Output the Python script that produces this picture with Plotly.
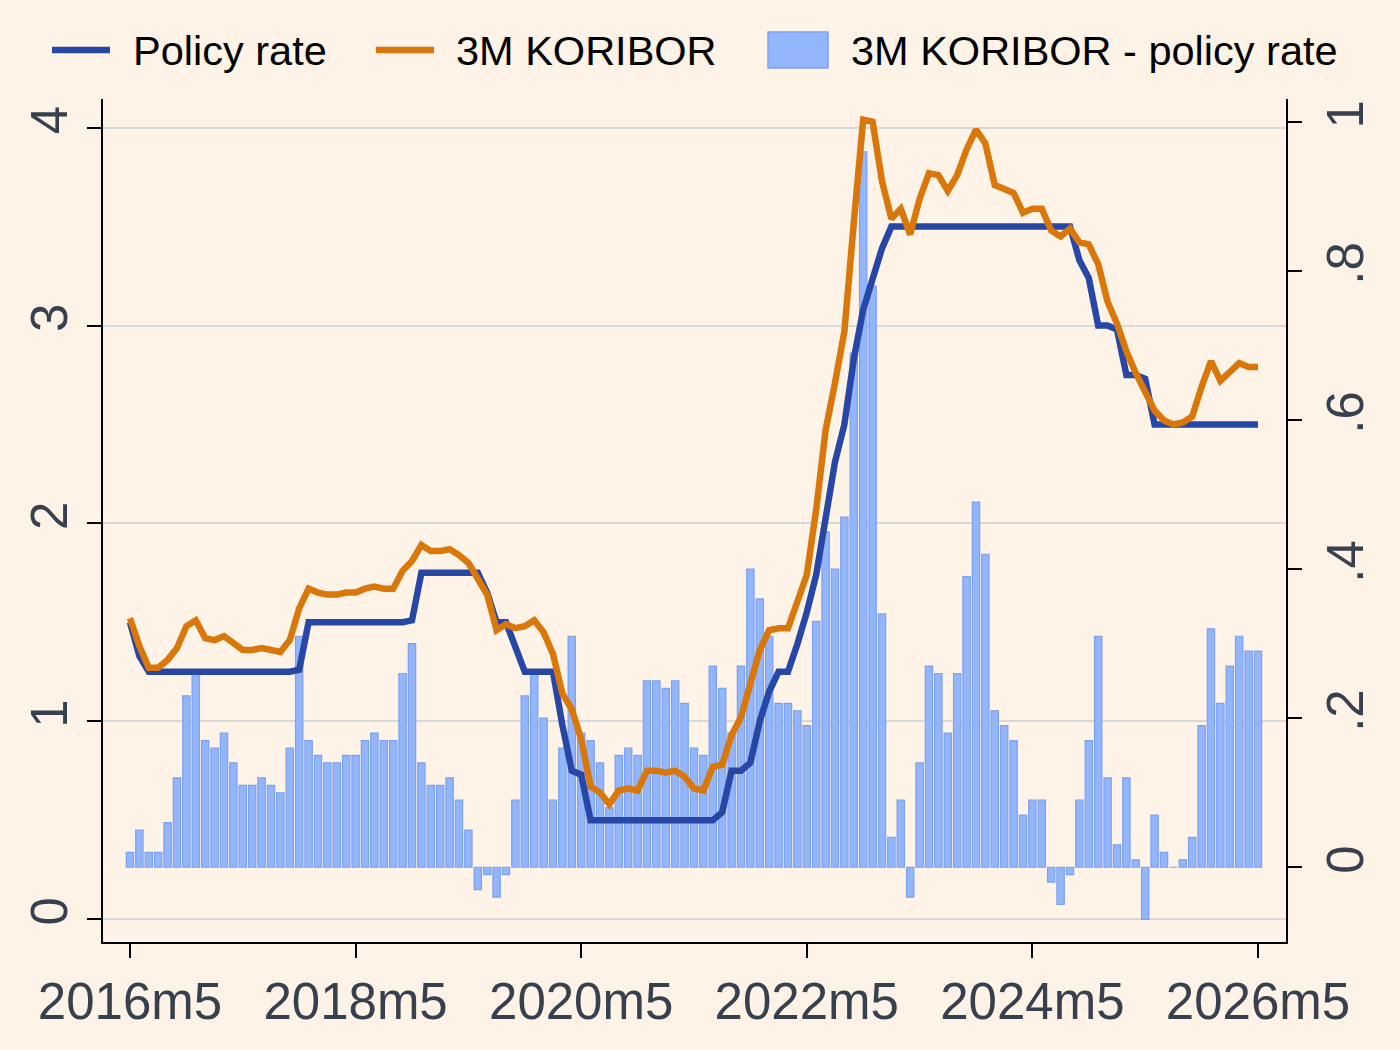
import plotly.graph_objects as go

# ---------------- data (monthly, 2016m5 .. 2026m5) ----------------
start_year, start_month = 2016, 5
n_months = 121
month_labels = [f"{start_year + (start_month - 1 + i) // 12}m{(start_month - 1 + i) % 12 + 1}"
                for i in range(n_months)]
month_index = list(range(n_months))

policy_rate = [
    1.50, 1.33, 1.25, 1.25, 1.25, 1.25, 1.25, 1.25, 1.25, 1.25,
    1.25, 1.25, 1.25, 1.25, 1.25, 1.25, 1.25, 1.25, 1.26, 1.50,
    1.50, 1.50, 1.50, 1.50, 1.50, 1.50, 1.50, 1.50, 1.50, 1.50,
    1.51, 1.75, 1.75, 1.75, 1.75, 1.75, 1.75, 1.75, 1.65, 1.50,
    1.50, 1.38, 1.25, 1.25, 1.25, 1.25, 0.98, 0.75, 0.73, 0.50,
    0.50, 0.50, 0.50, 0.50, 0.50, 0.50, 0.50, 0.50, 0.50, 0.50,
    0.50, 0.50, 0.50, 0.54, 0.75, 0.75, 0.79, 1.00, 1.15, 1.25,
    1.25, 1.39, 1.55, 1.74, 2.02, 2.31, 2.50, 2.83, 3.08, 3.25,
    3.39, 3.50, 3.50, 3.50, 3.50, 3.50, 3.50, 3.50, 3.50, 3.50,
    3.50, 3.50, 3.50, 3.50, 3.50, 3.50, 3.50, 3.50, 3.50, 3.50,
    3.50, 3.33, 3.24, 3.00, 3.00, 2.98, 2.75, 2.75, 2.73, 2.50,
    2.50, 2.50, 2.50, 2.50, 2.50, 2.50, 2.50, 2.50, 2.50, 2.50,
    2.50,
]

koribor_3m = [
    1.52, 1.38, 1.27, 1.27, 1.31, 1.37, 1.48, 1.51, 1.42, 1.41,
    1.43, 1.39, 1.36, 1.36, 1.37, 1.36, 1.35, 1.41, 1.57, 1.67,
    1.65, 1.64, 1.64, 1.65, 1.65, 1.67, 1.68, 1.67, 1.67, 1.76,
    1.81, 1.89, 1.86, 1.86, 1.87, 1.84, 1.80, 1.72, 1.64, 1.46,
    1.49, 1.47, 1.48, 1.51, 1.45, 1.34, 1.14, 1.06, 0.91, 0.67,
    0.64, 0.58, 0.65, 0.66, 0.65, 0.75, 0.75, 0.74, 0.75, 0.72,
    0.66, 0.65, 0.77, 0.78, 0.93, 1.02, 1.19, 1.36, 1.46, 1.47,
    1.47, 1.60, 1.74, 2.07, 2.47, 2.71, 2.97, 3.52, 4.04, 4.03,
    3.73, 3.54, 3.59, 3.46, 3.64, 3.77, 3.76, 3.68, 3.76, 3.89,
    3.99, 3.92, 3.71, 3.69, 3.67, 3.57, 3.59, 3.59, 3.48, 3.45,
    3.49, 3.42, 3.41, 3.31, 3.12, 3.01, 2.87, 2.76, 2.66, 2.57,
    2.52, 2.50, 2.51, 2.54, 2.69, 2.82, 2.72, 2.77, 2.81, 2.79,
    2.79,
]

spread = [
    0.02, 0.05, 0.02, 0.02, 0.06, 0.12, 0.23, 0.26, 0.17, 0.16,
    0.18, 0.14, 0.11, 0.11, 0.12, 0.11, 0.10, 0.16, 0.31, 0.17,
    0.15, 0.14, 0.14, 0.15, 0.15, 0.17, 0.18, 0.17, 0.17, 0.26,
    0.30, 0.14, 0.11, 0.11, 0.12, 0.09, 0.05, -0.03, -0.01, -0.04,
    -0.01, 0.09, 0.23, 0.26, 0.20, 0.09, 0.16, 0.31, 0.18, 0.17,
    0.14, 0.08, 0.15, 0.16, 0.15, 0.25, 0.25, 0.24, 0.25, 0.22,
    0.16, 0.15, 0.27, 0.24, 0.18, 0.27, 0.40, 0.36, 0.31, 0.22,
    0.22, 0.21, 0.19, 0.33, 0.45, 0.40, 0.47, 0.69, 0.96, 0.78,
    0.34, 0.04, 0.09, -0.04, 0.14, 0.27, 0.26, 0.18, 0.26, 0.39,
    0.49, 0.42, 0.21, 0.19, 0.17, 0.07, 0.09, 0.09, -0.02, -0.05,
    -0.01, 0.09, 0.17, 0.31, 0.12, 0.03, 0.12, 0.01, -0.07, 0.07,
    0.02, 0.00, 0.01, 0.04, 0.19, 0.32, 0.22, 0.27, 0.31, 0.29,
    0.29,
]

x_tick_vals = [0, 24, 48, 72, 96, 120]
x_tick_text = ["2016m5", "2018m5", "2020m5", "2022m5", "2024m5", "2026m5"]
left_tick_vals = [0, 1, 2, 3, 4]
left_tick_text = ["0", "1", "2", "3", "4"]
right_tick_vals = [0, 0.2, 0.4, 0.6, 0.8, 1.0]
right_tick_text = ["0", ".2", ".4", ".6", ".8", "1"]

legend_labels = ["Policy rate", "3M KORIBOR", "3M KORIBOR - policy rate"]

# ---------------- styling ----------------
BG = "#FEF3E6"
BLUE = "#2747A6"
ORANGE = "#D9770B"
BAR_FILL = "#93B5FA"
BAR_LINE = "#7BA1F2"
TICK_COLOR = "#37404E"
FONT = "Liberation Sans, Arial, sans-serif"
LINE_W = 6.5

W, H = 1400, 1050
PL, PR, PT, PB = 103, 1286, 99, 942


def px_x(px):
    return (px - PL) / (PR - PL)


def px_y(py):
    return (PB - py) / (PB - PT)


fig = go.Figure()

fig.add_trace(go.Bar(
    x=month_index, y=spread, yaxis="y",
    marker=dict(color=BAR_FILL, line=dict(color=BAR_LINE, width=1.2)),
    name=legend_labels[2], showlegend=False,
    customdata=month_labels, hovertemplate="%{customdata}: %{y}<extra></extra>",
))
fig.add_trace(go.Scatter(
    x=month_index, y=policy_rate, yaxis="y2", mode="lines",
    line=dict(color=BLUE, width=LINE_W),
    name=legend_labels[0], showlegend=False,
    customdata=month_labels, hovertemplate="%{customdata}: %{y}<extra></extra>",
))
fig.add_trace(go.Scatter(
    x=month_index, y=koribor_3m, yaxis="y2", mode="lines",
    line=dict(color=ORANGE, width=LINE_W),
    name=legend_labels[1], showlegend=False,
    customdata=month_labels, hovertemplate="%{customdata}: %{y}<extra></extra>",
))

axis_common = dict(
    showline=True, linecolor="black", linewidth=2,
    ticks="outside", ticklen=14, tickwidth=2, tickcolor="black",
    zeroline=False,
    tickfont=dict(family=FONT, size=51, color=TICK_COLOR),
)

fig.update_layout(
    width=W, height=H, autosize=False,
    paper_bgcolor=BG, plot_bgcolor=BG,
    margin=dict(l=PL, r=W - PR, t=PT, b=H - PB, pad=0),
    bargap=0.22,
    showlegend=False,
    font=dict(family=FONT),
    xaxis=dict(
        range=[-2.87, 122.98], tickmode="array",
        tickvals=x_tick_vals, ticktext=x_tick_text,
        showgrid=False, **axis_common,
    ),
    yaxis=dict(
        side="right", range=[-0.1003, 1.0309], tickmode="array",
        tickvals=right_tick_vals, ticktext=right_tick_text,
        tickangle=-90, showgrid=False, **axis_common,
    ),
    yaxis2=dict(
        side="left", overlaying="y", range=[-0.116, 4.145], tickmode="array",
        tickvals=left_tick_vals, ticktext=left_tick_text,
        tickangle=-90, showgrid=True, gridcolor="#D8D8D8", gridwidth=1.5,
        **axis_common,
    ),
)

# ---------------- legend drawn at top ----------------
ly = px_y(50)
fig.add_shape(type="line", xref="paper", yref="paper",
              x0=px_x(52), x1=px_x(110), y0=ly, y1=ly,
              line=dict(color=BLUE, width=LINE_W))
fig.add_shape(type="line", xref="paper", yref="paper",
              x0=px_x(376), x1=px_x(434), y0=ly, y1=ly,
              line=dict(color=ORANGE, width=LINE_W))
fig.add_shape(type="rect", xref="paper", yref="paper",
              x0=px_x(768), x1=px_x(828), y0=px_y(68), y1=px_y(32),
              fillcolor=BAR_FILL, line=dict(color=BAR_LINE, width=1.5))
for txt, xpx in zip(legend_labels, [131, 454, 849]):
    fig.add_annotation(
        text=txt, xref="paper", yref="paper", x=px_x(xpx), y=ly,
        xanchor="left", yanchor="middle", showarrow=False,
        font=dict(family=FONT, size=41.5, color="black"),
    )

fig.write_html("out.html")
